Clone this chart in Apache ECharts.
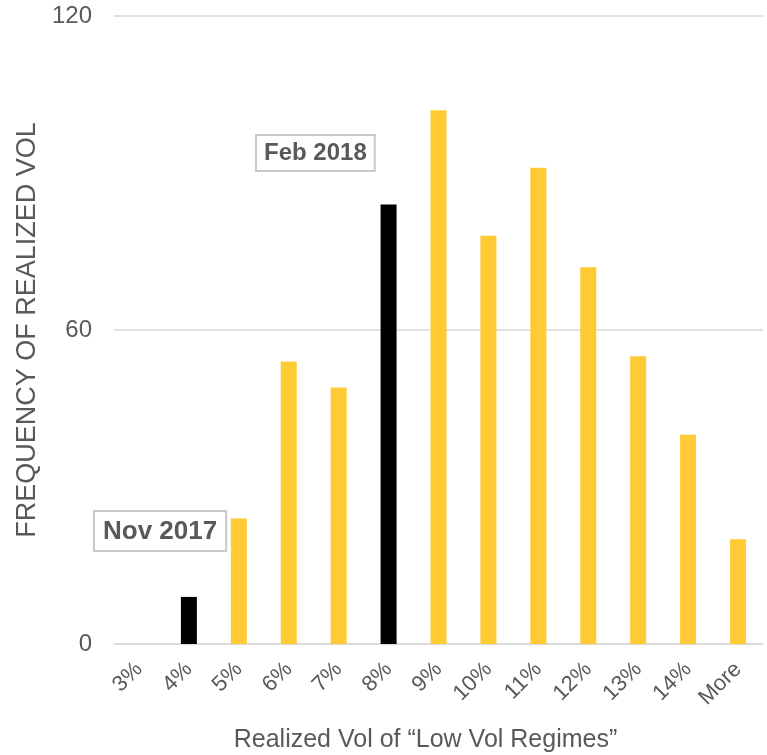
<!DOCTYPE html>
<html>
<head>
<meta charset="utf-8">
<script src="https://cdn.jsdelivr.net/npm/echarts@6/dist/echarts.min.js"></script>
<style>
  html, body { margin: 0; padding: 0; background: #fff; }
  #chart { width: 767px; height: 755px; }
</style>
</head>
<body>
<div id="chart"></div>
<script>
// Histogram buckets of realized volatility
const categories = ['3%', '4%', '5%', '6%', '7%', '8%', '9%', '10%', '11%', '12%', '13%', '14%', 'More'];
const frequency = [0, 9, 24, 54, 49, 84, 102, 78, 91, 72, 55, 40, 20];
// Buckets that hold the two marked episodes
const markedBuckets = ['4%', '8%'];
const yTicks = [0, 60, 120];

const FONT = '"Liberation Sans", Arial, sans-serif';
const GREY = '#595959';
const GOLD = '#FFCA33';

const chart = echarts.init(document.getElementById('chart'), null, { renderer: 'canvas' });

chart.setOption({
  animation: false,
  backgroundColor: '#ffffff',
  grid: { left: 114, right: 4, top: 16, bottom: 111, containLabel: false, outerBoundsMode: 'none' },
  xAxis: {
    type: 'category',
    data: categories,
    axisLine: { show: true, lineStyle: { color: '#d9d9d9', width: 1.5 } },
    axisTick: { show: false },
    axisLabel: {
      rotate: 45,
      margin: 22,
      color: GREY,
      fontFamily: FONT,
      fontSize: 22,
      interval: 0
    },
    name: 'Realized Vol of \u201CLow Vol Regimes\u201D',
    nameLocation: 'middle',
    nameGap: 84,
    nameTextStyle: { color: GREY, fontFamily: FONT, fontSize: 25, padding: [0, 26, 0, 0] }
  },
  yAxis: {
    type: 'value',
    min: yTicks[0],
    max: yTicks[yTicks.length - 1],
    interval: yTicks[1] - yTicks[0],
    axisLine: { show: false },
    axisTick: { show: false },
    splitLine: { lineStyle: { color: '#d9d9d9', width: 1.5 } },
    axisLabel: { color: GREY, fontFamily: FONT, fontSize: 24, margin: 22 },
    name: 'FREQUENCY OF REALIZED VOL',
    nameLocation: 'middle',
    nameGap: 66,
    nameRotate: 90,
    nameTextStyle: { color: GREY, fontFamily: FONT, fontSize: 27 }
  },
  series: [{
    type: 'bar',
    data: frequency,
    barWidth: 16,
    itemStyle: {
      color: p => markedBuckets.includes(categories[p.dataIndex]) ? '#000000' : GOLD
    }
  }],
  graphic: [
    {
      type: 'text',
      left: 93,
      top: 510,
      style: {
        text: 'Nov 2017',
        font: 'bold 26px ' + FONT,
        fill: GREY,
        borderColor: '#c8c8c8',
        borderWidth: 2,
        padding: [7, 8, 5, 8],
        backgroundColor: '#ffffff'
      }
    },
    {
      type: 'text',
      left: 255,
      top: 134,
      style: {
        text: 'Feb 2018',
        font: 'bold 24px ' + FONT,
        fill: GREY,
        borderColor: '#c8c8c8',
        borderWidth: 2,
        padding: [5, 7, 5, 7],
        backgroundColor: '#ffffff'
      }
    }
  ]
});
</script>
</body>
</html>
